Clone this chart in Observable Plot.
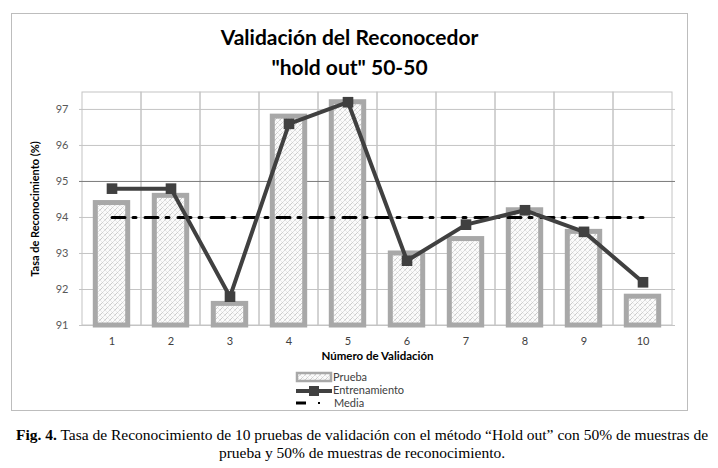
<!DOCTYPE html>
<html>
<head>
<meta charset="utf-8">
<script src="https://cdn.jsdelivr.net/npm/d3@7"></script>
<script src="https://cdn.jsdelivr.net/npm/@observablehq/plot@0.6"></script>
<style>
  html, body { margin: 0; padding: 0; background: #fff; }
  #page { position: relative; width: 718px; height: 468px; overflow: hidden; background: #fff; }
  #box { position: absolute; left: 11px; top: 13px; width: 677px; height: 398px; border: 1px solid #bdbdbd; box-sizing: border-box; }
  #title { position: absolute; left: 11px; width: 677px; top: 22px; text-align: center;
           font-family: Lato, "Open Sans", sans-serif; font-weight: bold; font-size: 21px; line-height: 30px; color: #000; }
  #chart { position: absolute; left: 0; top: 80px; }
  #legend { position: absolute; left: 0; top: 0; }
  #caption { position: absolute; left: 0; width: 724px; top: 426px; text-align: center;
             font-family: "Liberation Serif", "Times New Roman", serif; font-size: 15.5px; line-height: 18px; color: #000; }
</style>
</head>
<body>
<div id="page">
  <div id="box"></div>
  <div id="title">Validación del Reconocedor<br>"hold out" 50-50</div>
  <div id="chart"></div>
  <svg id="legend" width="718" height="468" style="position:absolute;left:0;top:0;pointer-events:none"></svg>
  <div id="caption"><b>Fig. 4.</b> Tasa de Reconocimiento de 10 pruebas de validación con el método “Hold out” con 50% de muestras de<br>prueba y 50% de muestras de reconocimiento.</div>
</div>
<script>
const categorias = ["1", "2", "3", "4", "5", "6", "7", "8", "9", "10"];
const prueba = [94.4, 94.6, 91.6, 96.8, 97.2, 93.0, 93.4, 94.2, 93.6, 91.8];
const entrenamiento = [94.8, 94.8, 91.8, 96.6, 97.2, 92.8, 93.8, 94.2, 93.6, 92.2];
const media = [94.0, 94.0, 94.0, 94.0, 94.0, 94.0, 94.0, 94.0, 94.0, 94.0];
const yTicks = [91, 92, 93, 94, 95, 96, 97];
const yDomain = [91, 97.47];

const rows = categorias.map((c, i) => ({c, prueba: prueba[i], entrenamiento: entrenamiento[i], media: media[i]}));

const font = "Lato, 'Open Sans', sans-serif";

const chart = Plot.plot({
  width: 718,
  height: 285,
  marginLeft: 79,
  marginRight: 43,
  marginTop: 12,
  marginBottom: 40,
  style: {fontFamily: font, fontSize: "11px", color: "#595959", background: "transparent"},
  x: {type: "band", domain: categorias, padding: 0},
  y: {domain: yDomain},
  marks: [
    Plot.barY(categorias, {x: d => d, y1: yDomain[0], y2: yDomain[1], fill: "none", stroke: "#c4c4c4", strokeWidth: 1}),
    Plot.ruleY(yTicks, {y: d => d, stroke: d => d === 95 ? "#7a7a7a" : "#c4c4c4", strokeWidth: 1}),
    Plot.barY(rows, {x: "c", y1: yDomain[0], y2: "prueba", fill: "url(#hatch)", stroke: "#a8a8a8", strokeWidth: 5, insetLeft: 13.3, insetRight: 13.3}),
    Plot.line(rows, {x: "c", y: "media", stroke: "#000", strokeWidth: 3, strokeDasharray: "13,8,3,9"}),
    Plot.line(rows, {x: "c", y: "entrenamiento", stroke: "#404040", strokeWidth: 4}),
    Plot.dot(rows, {x: "c", y: "entrenamiento", symbol: "square", r: 6, fill: "#404040", stroke: "none"}),
    Plot.axisY(yTicks, {tickSize: 0, tickPadding: 11, label: null, fill: "#595959"}),
    Plot.axisX({tickSize: 0, tickPadding: 12, label: null, fill: "#404040"}),
    Plot.text(["Tasa de Reconocimiento (%)"], {frameAnchor: "left", rotate: -90, dx: -44, fontWeight: "bold", fill: "#000", fontSize: 11, textAnchor: "middle"}),
    Plot.text(["Número de Validación"], {frameAnchor: "bottom", dy: 34, fontWeight: "bold", fill: "#000", fontSize: 11.5, textAnchor: "middle"})
  ]
});

const patternHTML = `<rect width="5" height="5" fill="#fbfbfb"/>
  <path d="M0,0 L5,5 M-1,4 L1,6 M4,-1 L6,1" stroke="#d6d6d6" stroke-width="0.5"/>
  <path d="M-1,1 L1,-1 M0,5 L5,0 M4,6 L6,4" stroke="#9a9a9a" stroke-width="0.7" stroke-dasharray="1,0.8"/>`;
const ns = "http://www.w3.org/2000/svg";
const defs = document.createElementNS(ns, "defs");
defs.innerHTML = `<pattern id="hatch" patternUnits="userSpaceOnUse" width="5" height="5">${patternHTML}</pattern>`;
chart.insertBefore(defs, chart.firstChild);
document.getElementById("chart").appendChild(chart);

// Legend
const leg = d3.select("#legend");
leg.append("defs").html(`<pattern id="hatch2" patternUnits="userSpaceOnUse" width="5" height="5">${patternHTML}</pattern>`);
const lx = 296, tx = 333;
leg.append("rect").attr("x", lx + 1).attr("y", 373).attr("width", 34).attr("height", 8)
  .attr("fill", "url(#hatch2)").attr("stroke", "#a8a8a8").attr("stroke-width", 2.5);
leg.append("line").attr("x1", lx).attr("x2", lx + 36).attr("y1", 391).attr("y2", 391)
  .attr("stroke", "#404040").attr("stroke-width", 4);
leg.append("rect").attr("x", lx + 13).attr("y", 386).attr("width", 10).attr("height", 10).attr("fill", "#404040");
leg.append("line").attr("x1", lx).attr("x2", lx + 10).attr("y1", 403).attr("y2", 403)
  .attr("stroke", "#000").attr("stroke-width", 3);
leg.append("rect").attr("x", lx + 22).attr("y", 402).attr("width", 2).attr("height", 2).attr("fill", "#000");
const legendLabels = ["Prueba", "Entrenamiento", "Media"];
legendLabels.forEach((t, i) => {
  leg.append("text").attr("x", i === 2 ? tx + 1 : tx).attr("y", 377 + i * 13).attr("dy", "0.35em")
    .attr("font-family", font).attr("font-size", 11).attr("fill", "#404040").text(t);
});
</script>
</body>
</html>
